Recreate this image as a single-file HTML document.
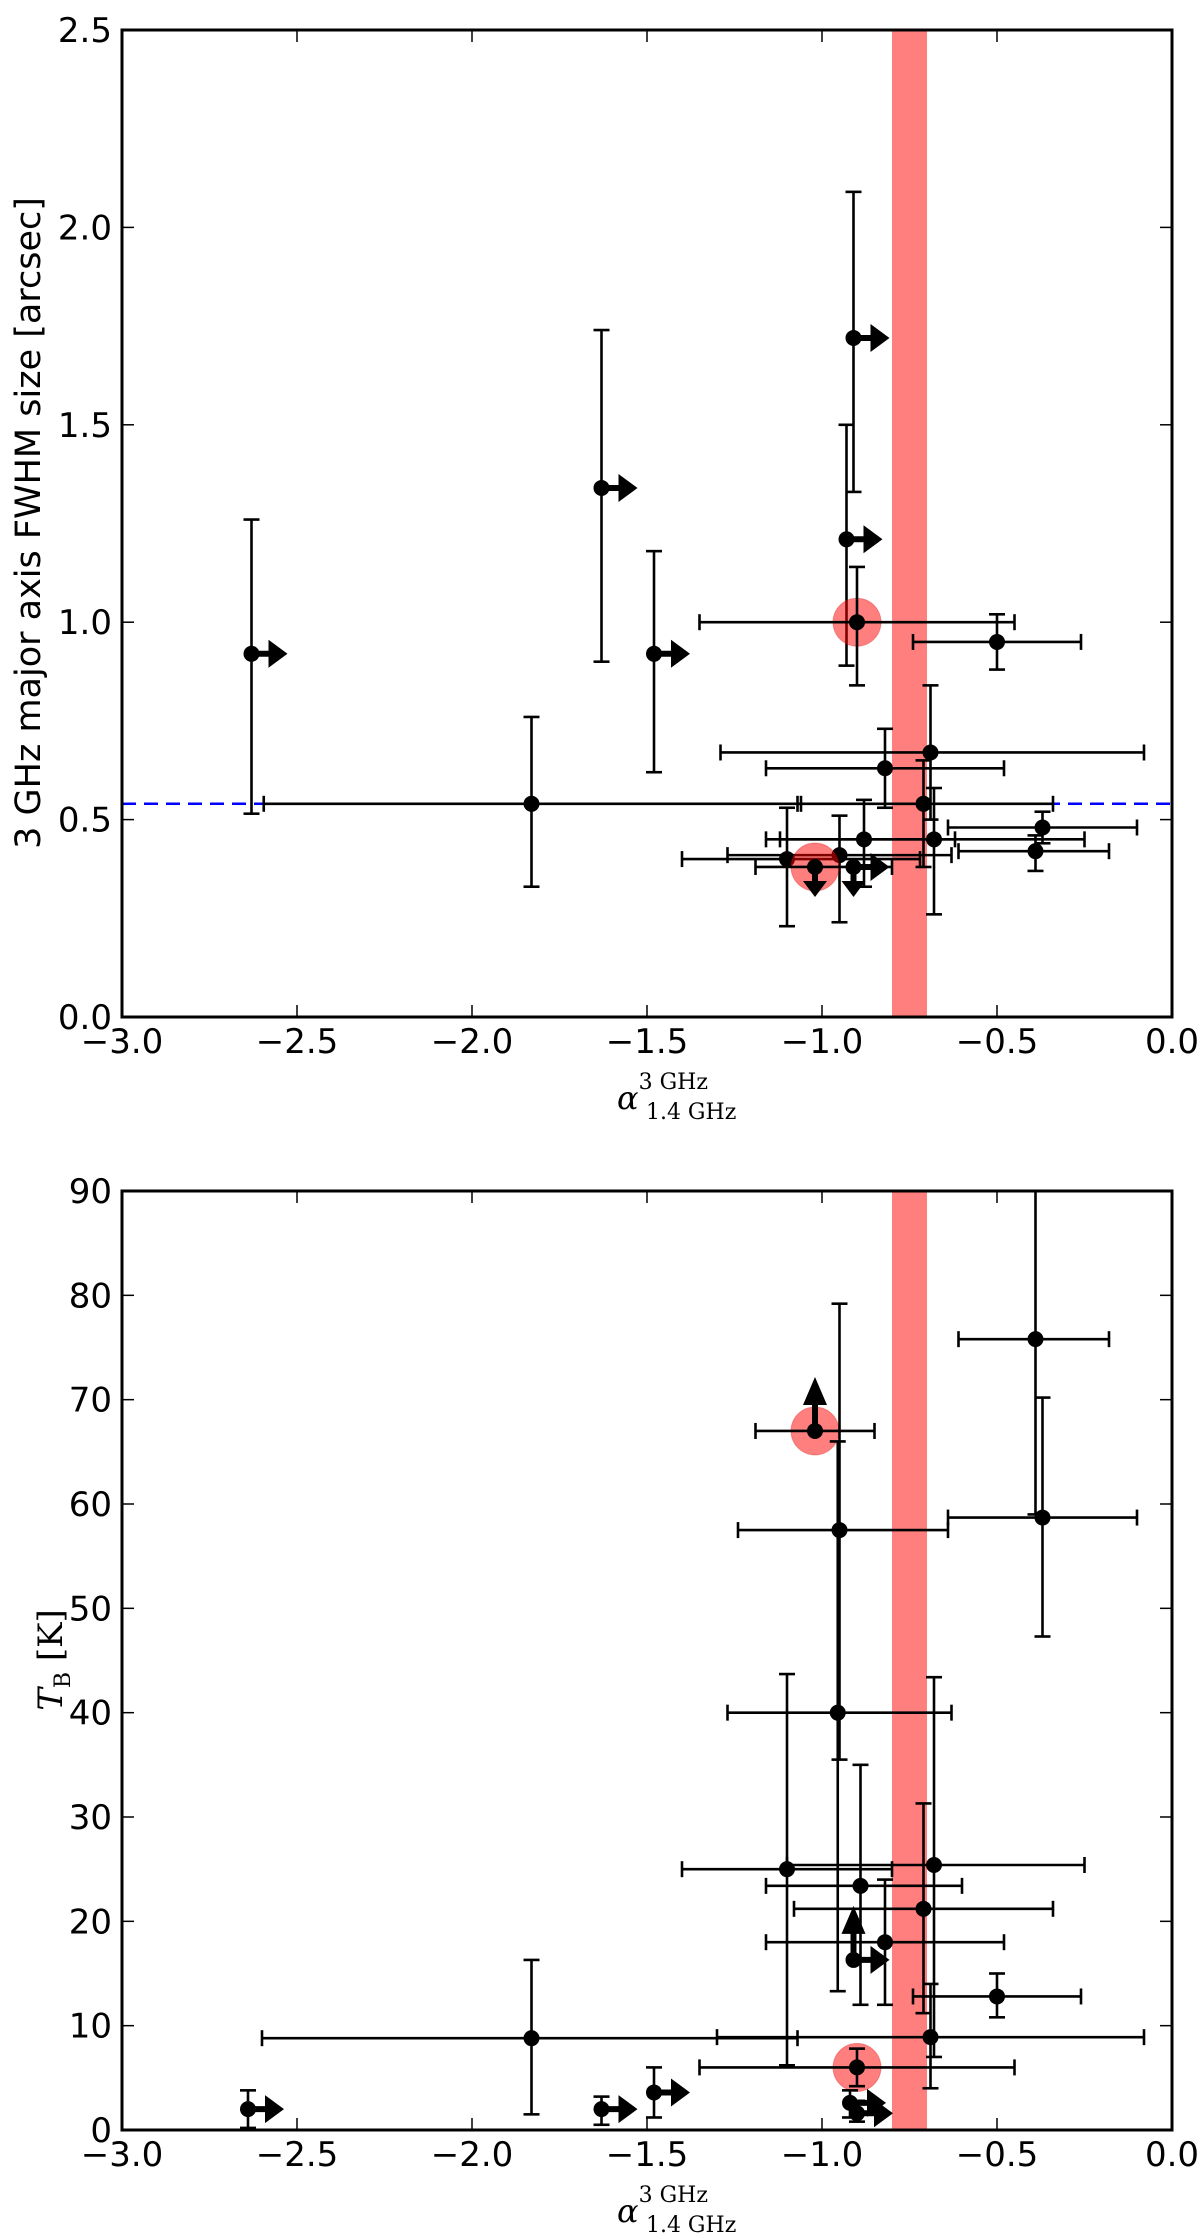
<!DOCTYPE html>
<html><head><meta charset="utf-8"><style>
html,body{margin:0;padding:0;background:#fff;}
svg{display:block;}
</style></head><body>
<svg id="fig" width="1200" height="2239" viewBox="0 0 1200 2239" xmlns="http://www.w3.org/2000/svg"></svg>
<script>
// ---------- data: top panel ----------
const topX    = [-2.63,-1.63,-1.48,-1.83,-0.71,-0.91,-0.93,-0.90,-0.50,-0.69,-0.82,-0.37,-0.39,-0.68,-0.88,-1.10,-0.95,-1.02,-0.91];
const topY    = [0.92,1.34,0.92,0.54,0.54,1.72,1.21,1.00,0.95,0.67,0.63,0.48,0.42,0.45,0.45,0.40,0.41,0.38,0.38];
const topYLo  = [0.515,0.90,0.62,0.33,0.38,1.33,0.89,0.84,0.88,0.50,0.53,0.44,0.37,0.26,0.33,0.23,0.24,null,null];
const topYHi  = [1.26,1.74,1.18,0.76,0.65,2.09,1.50,1.14,1.02,0.84,0.73,0.52,0.46,0.58,0.55,0.53,0.51,null,null];
const topXLo  = [null,null,null,-2.595,-1.07,null,null,-1.35,-0.74,-1.29,-1.16,-0.64,-0.61,-1.16,-1.12,-1.40,-1.27,-1.19,null];
const topXHi  = [null,null,null,-1.06,-0.34,null,null,-0.45,-0.26,-0.08,-0.48,-0.10,-0.18,-0.25,-0.62,-0.72,-0.63,-0.80,null];
const topArrR = [1,1,1,0,0,1,1,0,0,0,0,0,0,0,0,0,0,0,1];
const topArrD = [0,0,0,0,0,0,0,0,0,0,0,0,0,0,0,0,0,1,1];
const topArrU = [0,0,0,0,0,0,0,0,0,0,0,0,0,0,0,0,0,0,0];
const topRed  = [0,0,0,0,0,0,0,1,0,0,0,0,0,0,0,0,0,1,0];
const topYTicks = [0.0,0.5,1.0,1.5,2.0,2.5];
const topYTickLabels = ["0.0","0.5","1.0","1.5","2.0","2.5"];
const refLine = 0.54;
// ---------- data: bottom panel ----------
const botX    = [-2.64,-1.63,-1.48,-1.83,-1.02,-0.95,-0.955,-1.10,-0.68,-0.89,-0.71,-0.82,-0.91,-0.50,-0.69,-0.90,-0.39,-0.37,-0.92,-0.90];
const botY    = [2,2,3.6,8.8,67,57.5,40,25,25.4,23.4,21.2,18,16.3,12.8,8.9,6,75.8,58.7,2.6,1.6];
const botYLo  = [0.2,0.5,1.2,1.5,null,35.5,13.3,6.2,7,12,11.2,12,null,10.8,4,4.2,59,47.3,1.2,0.8];
const botYHi  = [3.8,3.2,6,16.3,null,79.2,66,43.7,43.4,35,31.3,24,null,15,14,7.8,92,70.2,3.8,2.8];
const botXLo  = [null,null,null,-2.60,-1.19,-1.24,-1.27,-1.40,-1.10,-1.16,-1.08,-1.16,null,-0.74,-1.30,-1.35,-0.61,-0.64,null,null];
const botXHi  = [null,null,null,-1.07,-0.85,-0.64,-0.63,-0.80,-0.25,-0.60,-0.34,-0.48,null,-0.26,-0.08,-0.45,-0.18,-0.10,null,null];
const botArrR = [1,1,1,0,0,0,0,0,0,0,0,0,1,0,0,0,0,0,1,1];
const botArrU = [0,0,0,0,1,0,0,0,0,0,0,0,1,0,0,0,0,0,0,0];
const botArrD = [0,0,0,0,0,0,0,0,0,0,0,0,0,0,0,0,0,0,0,0];
const botRed  = [0,0,0,0,1,0,0,0,0,0,0,0,0,0,0,1,0,0,0,0];
const botYTicks = [0,10,20,30,40,50,60,70,80,90];
const botYTickLabels = ["0","10","20","30","40","50","60","70","80","90"];
// shared
const xTicks = [-3.0,-2.5,-2.0,-1.5,-1.0,-0.5,0.0];
const xTickLabels = ["\u22123.0","\u22122.5","\u22122.0","\u22121.5","\u22121.0","\u22120.5","0.0"];
const bandLo = -0.80, bandHi = -0.70;

const NS="http://www.w3.org/2000/svg";
const svg=document.getElementById('fig');
function mk(tag,attrs,parent,text){const e=document.createElementNS(NS,tag);for(const k in attrs)e.setAttribute(k,attrs[k]);if(text!==undefined)e.textContent=text;(parent||svg).appendChild(e);return e;}

function panel(cfg){
  const L=122,R=1172,T=cfg.top,B=cfg.bottom;
  const xs=v=>L+(v-(-3))/3*(R-L);
  const ys=v=>B-(v-cfg.ymin)/(cfg.ymax-cfg.ymin)*(B-T);
  const g=mk('g',{},svg);
  
  
  const clipId=cfg.name+'-clip';
  const cp=mk('clipPath',{id:clipId},g);mk('rect',{x:L,y:T,width:R-L,height:B-T},cp);
  const plot=mk('g',{'clip-path':'url(#'+clipId+')'},g);
  const band=mk('rect',{x:xs(bandLo),y:T,width:xs(bandHi)-xs(bandLo),height:B-T,fill:'#ff0000','fill-opacity':0.5},plot);
  
  
  if(cfg.ref!==undefined){
    const rl=mk('line',{x1:L,x2:R,y1:ys(cfg.ref),y2:ys(cfg.ref),stroke:'#0000ff','stroke-width':2.5,'stroke-dasharray':'14,8'},plot);
    
    
  }
  const d=cfg.d;
  for(let i=0;i<d.x.length;i++){
    const px=xs(d.x[i]),py=ys(d.y[i]);
    const pg=mk('g',{},plot);
    
    
    if(d.red[i]) mk('circle',{cx:px,cy:py,r:24,fill:'#ff0000','fill-opacity':0.5,stroke:'#c00','stroke-opacity':0.3},pg);
    const st={stroke:'#000','stroke-width':2.6};
    if(d.ylo[i]!==null){
      const a=ys(d.ylo[i]),b=ys(d.yhi[i]);
      mk('line',Object.assign({x1:px,x2:px,y1:a,y2:b},st),pg);
      mk('line',Object.assign({x1:px-8,x2:px+8,y1:a,y2:a},st),pg);
      mk('line',Object.assign({x1:px-8,x2:px+8,y1:b,y2:b},st),pg);
    }
    if(d.xlo[i]!==null){
      const a=xs(d.xlo[i]),b=xs(d.xhi[i]);
      mk('line',Object.assign({x1:a,x2:b,y1:py,y2:py},st),pg);
      mk('line',Object.assign({x1:a,x2:a,y1:py-8,y2:py+8},st),pg);
      mk('line',Object.assign({x1:b,x2:b,y1:py-8,y2:py+8},st),pg);
    }
    mk('circle',{cx:px,cy:py,r:8,fill:'#000'},pg);
    if(d.ar[i]){
      mk('line',{x1:px,x2:px+20,y1:py,y2:py,stroke:'#000','stroke-width':6},pg);
      mk('polygon',{points:`${px+17},${py-14} ${px+36},${py} ${px+17},${py+14}`,fill:'#000'},pg);
    }
    if(d.ad[i]){
      mk('line',{x1:px,x2:px,y1:py,y2:py+18,stroke:'#000','stroke-width':6},pg);
      mk('polygon',{points:`${px-12},${py+14} ${px},${py+30} ${px+12},${py+14}`,fill:'#000'},pg);
    }
    if(d.au[i]){
      mk('line',{x1:px,x2:px,y1:py,y2:py-30,stroke:'#000','stroke-width':6},pg);
      mk('polygon',{points:`${px-12},${py-26} ${px},${py-54} ${px+12},${py-26}`,fill:'#000'},pg);
    }
  }
  const fr=mk('rect',{x:L,y:T,width:R-L,height:B-T,fill:'none',stroke:'#000','stroke-width':3},g);
  
  
  xTicks.forEach((t,k)=>{
    const x=xs(t);
    mk('line',{x1:x,x2:x,y1:B,y2:B-12,stroke:'#000','stroke-width':1.5},g);
    mk('line',{x1:x,x2:x,y1:T,y2:T+12,stroke:'#000','stroke-width':1.5},g);
    const tl=mk('text',{x:x,y:B+36,'text-anchor':'middle','font-size':34,'font-family':'DejaVu Sans, Liberation Sans, sans-serif'},g,xTickLabels[k]);
    
    
  });
  cfg.yt.forEach((t,k)=>{
    const y=ys(t);
    mk('line',{x1:L,x2:L+12,y1:y,y2:y,stroke:'#000','stroke-width':1.5},g);
    mk('line',{x1:R,x2:R-12,y1:y,y2:y,stroke:'#000','stroke-width':1.5},g);
    const tl=mk('text',{x:L-10,y:y+12,'text-anchor':'end','font-size':34,'font-family':'DejaVu Sans, Liberation Sans, sans-serif'},g,cfg.ytl[k]);
    
    
  });
  const xl=mk('text',{x:(L+R)/2-30,y:B+cfg.xlOff,'font-family':'DejaVu Serif, Liberation Serif, serif','font-size':32},g);
  
  
  mk('tspan',{'font-style':'italic'},xl,'\u03b1');
  mk('tspan',{dy:-20,'font-size':22},xl,'3 GHz');
  mk('tspan',{dx:-62,dy:30,'font-size':22},xl,'1.4 GHz');
  return {xs,ys};
}

panel({name:'size-panel',top:30,bottom:1017,ymin:0,ymax:2.5,yt:topYTicks,ytl:topYTickLabels,ref:refLine,xlOff:92,
  d:{x:topX,y:topY,ylo:topYLo,yhi:topYHi,xlo:topXLo,xhi:topXHi,ar:topArrR,ad:topArrD,au:topArrU,red:topRed}});
panel({name:'tb-panel',top:1191,bottom:2130,ymin:0,ymax:90,yt:botYTicks,ytl:botYTickLabels,xlOff:92,
  d:{x:botX,y:botY,ylo:botYLo,yhi:botYHi,xlo:botXLo,xhi:botXHi,ar:botArrR,ad:botArrD,au:botArrU,red:botRed}});

const yl1=mk('text',{x:0,y:0,transform:'translate(40,523) rotate(-90)','text-anchor':'middle','font-size':35,'font-family':'DejaVu Sans, Liberation Sans, sans-serif'},svg,'3 GHz major axis FWHM size [arcsec]');


const yl2=mk('text',{x:0,y:0,transform:'translate(62,1660) rotate(-90)','text-anchor':'middle','font-size':34,'font-family':'DejaVu Serif, Liberation Serif, serif'},svg);


mk('tspan',{'font-style':'italic'},yl2,'T');
mk('tspan',{dy:8,'font-size':22},yl2,'B');
mk('tspan',{dy:-8},yl2,' [K]');
</script>
</body></html>
